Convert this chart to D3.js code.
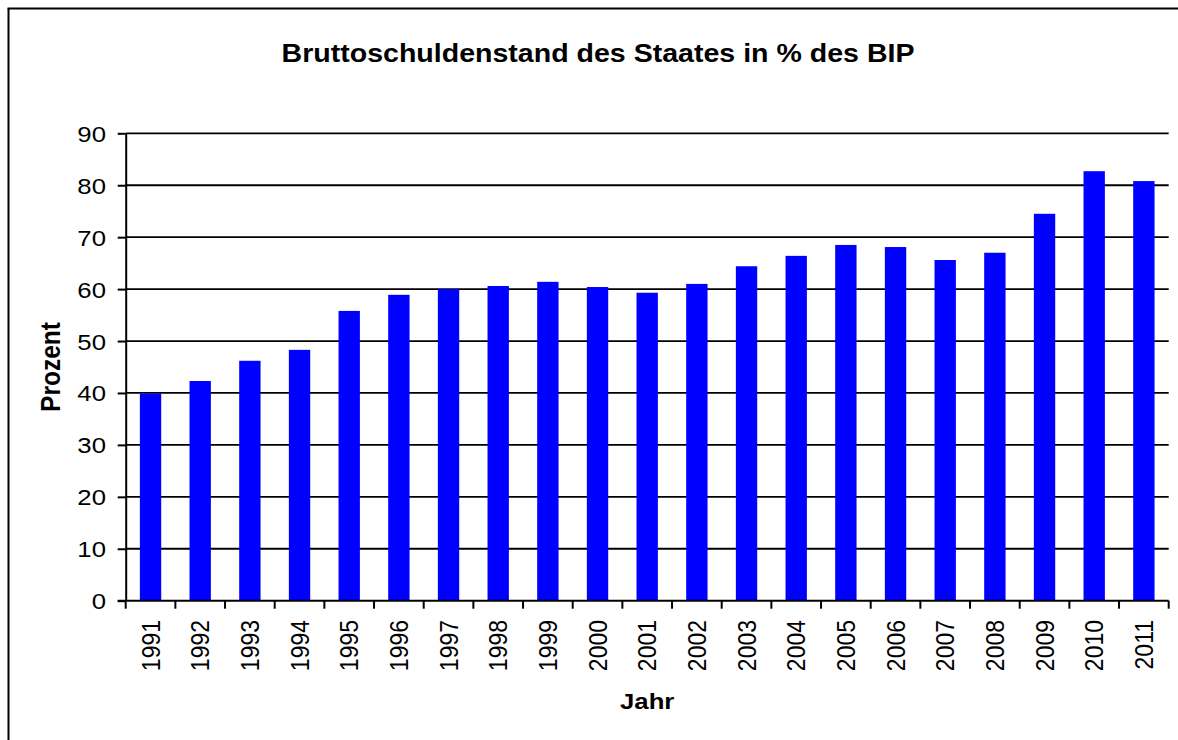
<!DOCTYPE html>
<html>
<head>
<meta charset="utf-8">
<script src="https://cdn.jsdelivr.net/npm/d3@7"></script>
<style>
  html, body { margin: 0; padding: 0; background: #fff; overflow: hidden; }
  svg { display: block; font-family: "Liberation Sans", Arial, sans-serif; }
</style>
</head>
<body>
<svg width="1178" height="740"></svg>
<script>
const years = ["1991","1992","1993","1994","1995","1996","1997","1998","1999","2000","2001",
               "2002","2003","2004","2005","2006","2007","2008","2009","2010","2011"];
const debt = [39.9, 42.3, 46.2, 48.3, 55.8, 58.9, 60.0, 60.6, 61.4, 60.4, 59.3,
              61.0, 64.4, 66.4, 68.5, 68.1, 65.6, 67.0, 74.5, 82.7, 80.8];
const yTicks = [0, 10, 20, 30, 40, 50, 60, 70, 80, 90];

const svg = d3.select("svg");
const sx = 1.12; // text in the original looks a bit wider than tall

const plot = {left: 125.7, right: 1168.7, top: 133.3, bottom: 600.7};

// outer frame: only top and left edges fall inside the picture
svg.append("line")
    .attr("x1", 8.5).attr("x2", 8.5).attr("y1", 8.5).attr("y2", 740)
    .attr("stroke", "#000").attr("stroke-width", 2);
svg.append("line")
    .attr("x1", 7.5).attr("x2", 1178).attr("y1", 8.5).attr("y2", 8.5)
    .attr("stroke", "#000").attr("stroke-width", 2);

const x = d3.scaleBand().domain(years).range([plot.left, plot.right]).paddingInner(0.57).paddingOuter(0.285);
const xb = d3.scaleBand().domain(years).range([plot.left, plot.right]);
const y = d3.scaleLinear().domain([0, 90]).range([plot.bottom, plot.top]);

// gridlines
svg.append("g")
  .selectAll("line")
  .data(yTicks.filter(d => d > 0))
  .enter().append("line")
    .attr("x1", plot.left).attr("x2", plot.right)
    .attr("y1", d => y(d)).attr("y2", d => y(d))
    .attr("stroke", "#000").attr("stroke-width", 1.8);

// bars
svg.append("g")
  .selectAll("rect")
  .data(years)
  .enter().append("rect")
    .attr("x", d => x(d))
    .attr("width", x.bandwidth())
    .attr("y", (d, i) => y(debt[i]))
    .attr("height", (d, i) => y(0) - y(debt[i]))
    .attr("fill", "#0000ff");

// y axis
const yAxis = svg.append("g")
    .attr("transform", `translate(${plot.left},0)`)
    .call(d3.axisLeft(y).tickValues(yTicks).tickSize(8).tickSizeOuter(0));
yAxis.selectAll("path, line").attr("stroke", "#000").attr("stroke-width", 2);
yAxis.selectAll("text").remove();

svg.append("g")
  .selectAll("text")
  .data(yTicks)
  .enter().append("text")
    .attr("transform", d => `translate(106,${y(d) + 8.5}) scale(${sx},1)`)
    .attr("text-anchor", "end")
    .attr("font-size", 23)
    .text(d => d);

// x axis: ticks at category boundaries
const xLine = svg.append("g");
xLine.append("line")
    .attr("x1", plot.left - 8).attr("x2", plot.right)
    .attr("y1", plot.bottom).attr("y2", plot.bottom)
    .attr("stroke", "#000").attr("stroke-width", 2);
xLine.selectAll("line.tick")
  .data(years.concat(["end"]))
  .enter().append("line")
    .attr("class", "tick")
    .attr("x1", (d, i) => plot.left + i * xb.bandwidth())
    .attr("x2", (d, i) => plot.left + i * xb.bandwidth())
    .attr("y1", plot.bottom).attr("y2", plot.bottom + 8)
    .attr("stroke", "#000").attr("stroke-width", 2);

svg.append("g")
  .selectAll("text")
  .data(years)
  .enter().append("text")
    .attr("transform", d => `translate(${xb(d) + xb.bandwidth() / 2 + 9},620) scale(${sx},1) rotate(-90)`)
    .attr("text-anchor", "end")
    .attr("font-size", 23)
    .text(d => d);

// titles
svg.append("text")
    .attr("transform", `translate(598,62) scale(${sx},1)`)
    .attr("text-anchor", "middle")
    .attr("font-size", 25.5)
    .attr("font-weight", "bold")
    .text("Bruttoschuldenstand des Staates in % des BIP");

svg.append("text")
    .attr("transform", `translate(${(plot.left + plot.right) / 2},709) scale(${sx},1)`)
    .attr("text-anchor", "middle")
    .attr("font-size", 23)
    .attr("font-weight", "bold")
    .text("Jahr");

svg.append("text")
    .attr("transform", `translate(60,367) scale(${sx},1) rotate(-90)`)
    .attr("text-anchor", "middle")
    .attr("font-size", 24.5)
    .attr("font-weight", "bold")
    .text("Prozent");
</script>
</body>
</html>
